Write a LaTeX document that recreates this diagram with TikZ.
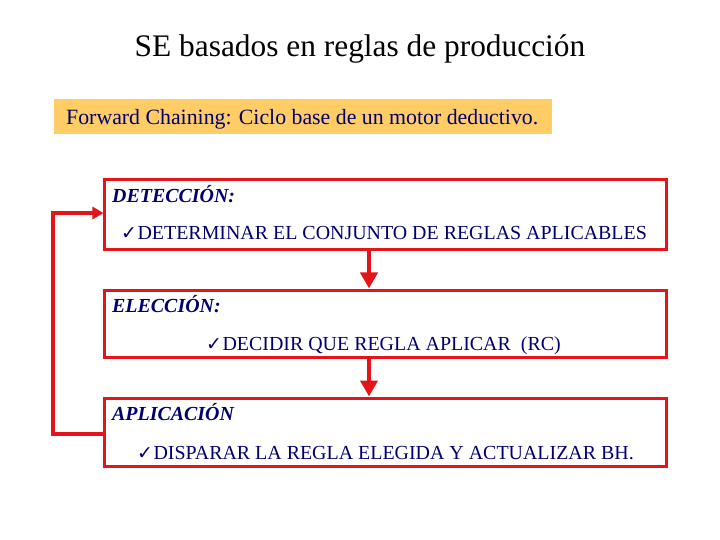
\documentclass[tikz,border=0pt]{standalone}
\usepackage{fontspec}
\setmainfont{Liberation Serif}
\newfontfamily\symfont{DejaVu Sans}
\usetikzlibrary{arrows.meta}
\definecolor{navy}{RGB}{0,0,110}
\definecolor{boxred}{RGB}{228,20,27}
\definecolor{banner}{RGB}{255,204,102}
\tikzset{
  stagebox/.style={draw=boxred, line width=3bp, minimum width=561bp, inner sep=0pt},
  headtxt/.style={anchor=base west, inner sep=0pt, text=navy, font=\fontsize{20}{22}\selectfont\bfseries\itshape},
  itemtxt/.style={anchor=base west, inner sep=0pt, text=navy, font=\fontsize{20}{22}\selectfont},
  flowarrow/.style={draw=boxred, line width=4.5bp, -{Triangle[length=16bp,width=17bp]}},
  backarrow/.style={draw=boxred, line width=3.5bp, -{Triangle[length=11bp,width=12bp]}},
}
\newcommand{\chk}{{\symfont\fontsize{19}{20}\selectfont ✓}\hspace{0.5bp}}
\begin{document}
\begin{tikzpicture}[x=1bp,y=-1bp]
\useasboundingbox (0,0) rectangle (720,540);
\node[anchor=base, inner sep=0pt, font=\fontsize{31.5}{34}\selectfont] (title) at (360,57) {SE basados en reglas de producción};
\node[fill=banner, minimum width=498bp, minimum height=35bp, inner sep=0pt] (banner) at (303,116.5) {};
\node[anchor=base west, inner sep=0pt, text=navy, font=\fontsize{21.9}{24}\selectfont] (bannertxt) at (66,124.5) {Forward Chaining: Ciclo base de un motor deductivo.};

\node[stagebox, minimum height=69bp] (b1) at (385.5,214.5) {};
\node[stagebox, minimum height=67bp] (b2) at (385.5,323.5) {};
\node[stagebox, minimum height=68bp] (b3) at (385.5,432) {};

\node[headtxt] (h1) at (112,203) {DETECCIÓN:};
\node[itemtxt] (i1) at (121,240) {\chk DETERMINAR EL CONJUNTO DE REGLAS APLICABLES};
\node[headtxt] (h2) at (112,312) {ELECCIÓN:};
\node[itemtxt] (i2) at (206,350) {\chk DECIDIR QUE REGLA APLICAR\ \ (RC)};
\node[headtxt] (h3) at (112,420) {APLICACIÓN};
\node[itemtxt] (i3) at (137,459) {\chk DISPARAR LA REGLA ELEGIDA Y ACTUALIZAR BH.};

\coordinate (ax) at (369,0);
\draw[flowarrow] (b1.south -| ax) -- (b2.north -| ax);
\draw[flowarrow] (b2.south -| ax) -- (b3.north -| ax);
\coordinate (c1) at (53,434);
\coordinate (c2) at (53,213);
\draw[backarrow] (b3.west |- c1) -- (c1) -- (c2) -- (b1.west |- c2);
\end{tikzpicture}
\end{document}
